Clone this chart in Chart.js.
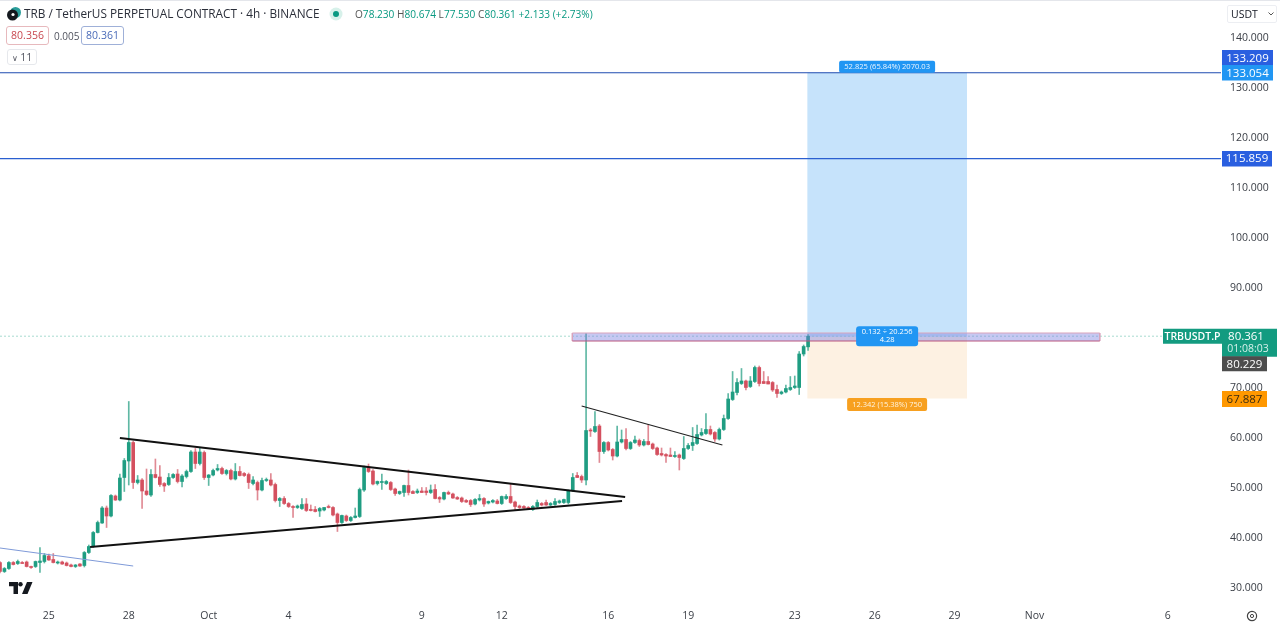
<!DOCTYPE html>
<html><head><meta charset="utf-8">
<script src="https://cdn.jsdelivr.net/npm/chart.js@4"></script>
<style>
html,body{margin:0;padding:0;background:#fff;overflow:hidden;width:1280px;height:625px}
#wrap{position:relative;width:1280px;height:625px;font-family:"Open Sans","Liberation Sans",sans-serif;color:#131722}
canvas{position:absolute;left:0;top:0}
.t{position:absolute;white-space:nowrap;line-height:1}
.b{position:absolute;box-sizing:border-box;border-radius:3px;text-align:center;font-size:10.5px}
</style></head><body>
<div id="wrap">
<canvas id="c" width="1280" height="625"></canvas>
<div style="position:absolute;left:0;top:0;width:1280px;height:1px;background:#e4e6eb"></div>
<svg style="position:absolute;left:6px;top:6px" width="16" height="16" viewBox="0 0 16 16"><circle cx="9.5" cy="6.5" r="5.5" fill="#2a9d9a"/><circle cx="6.5" cy="9" r="5.5" fill="#15191f"/><circle cx="7" cy="8.5" r="1.6" fill="#fff"/></svg>
<div class="t" style="left:24px;top:8px;font-size:11.8px;color:#2a2e39">TRB / TetherUS PERPETUAL CONTRACT · 4h · BINANCE</div>
<svg style="position:absolute;left:329px;top:7px" width="14" height="14"><circle cx="7" cy="7" r="6.5" fill="#d7f1ea"/><circle cx="7" cy="7" r="3" fill="#089981"/></svg>
<div class="t" style="left:355px;top:9px;font-size:10.1px;color:#089981"><span style="color:#555">O</span>78.230 <span style="color:#555">H</span>80.674 <span style="color:#555">L</span>77.530 <span style="color:#555">C</span>80.361 +2.133 (+2.73%)</div>
<div class="b" style="left:6px;top:26px;width:43px;height:19px;border:1px solid #e7b9bd;color:#c8474f;line-height:17px">80.356</div>
<div class="t" style="left:54px;top:31px;font-size:10px;color:#50535e">0.005</div>
<div class="b" style="left:81px;top:26px;width:43px;height:19px;border:1px solid #9fb0d8;color:#4a6bb8;line-height:17px">80.361</div>
<div class="b" style="left:7px;top:49px;width:30px;height:16px;border:1px solid #e6e8ec;color:#50535e;line-height:14px"><span style="font-size:8px">∨</span> 11</div>
<div class="b" style="left:1227px;top:5px;width:50px;height:18px;border:1px solid #eceef2;border-radius:2px;color:#131722;text-align:left;padding-left:3px;line-height:16px">USDT</div>
<svg style="position:absolute;left:1268px;top:12px" width="6" height="4"><path d="M0.5 0.5L3 3L5.5 0.5" fill="none" stroke="#555" stroke-width="1"/></svg>
<svg style="position:absolute;left:9px;top:582px" width="24" height="12" viewBox="0 0 24 12"><path d="M0 0H9V12H4.5V4.2H0Z" fill="#15191f"/><circle cx="11.5" cy="2.2" r="2.2" fill="#15191f"/><path d="M18 0H23.5L18.5 12H13Z" fill="#15191f"/></svg>
<svg style="position:absolute;left:1246px;top:610px" width="12" height="12"><circle cx="6" cy="6" r="4.6" fill="none" stroke="#444" stroke-width="1.2"/><circle cx="6" cy="6" r="1.6" fill="none" stroke="#444" stroke-width="1"/></svg>
</div>
<script>
// Candles, one per 4h bar, index 0 at the left edge of the pane
const opens=[35.1,33.3,33.9,35.1,34.9,35.1,35.2,34.3,34.3,35.1,35.3,36.4,35.7,35.0,35.2,35.0,34.6,34.3,34.8,34.5,37.1,38.3,41.1,43.0,46.0,44.4,48.4,47.6,52.1,55.4,59.1,51.1,51.6,49.4,48.6,52.7,52.2,50.9,50.7,52.1,52.8,51.3,52.3,53.3,57.2,54.9,57.1,52.1,52.6,53.6,53.9,52.9,53.5,51.8,53.3,52.9,52.7,50.9,51.1,49.6,51.5,51.6,50.7,47.5,47.9,46.9,46.3,46.1,45.9,46.8,45.7,45.7,45.4,45.6,46.3,46.1,44.8,43.1,44.4,43.5,44.1,44.3,49.6,54.1,53.4,50.9,51.1,50.9,51.1,49.8,48.9,49.1,50.5,49.3,49.1,49.4,49.4,49.1,49.7,48.1,47.8,49.1,48.8,48.1,48.0,47.5,47.5,46.8,47.6,47.9,47.0,47.2,47.4,46.9,47.9,48.3,47.2,46.4,46.3,46.1,45.7,46.3,46.9,47.1,46.6,46.7,47.1,47.1,47.1,49.5,52.5,52.3,51.6,61.6,61.3,62.4,57.3,59.1,57.7,56.4,59.2,59.7,57.9,59.1,59.5,58.6,59.3,58.8,58.0,56.9,56.7,56.6,56.3,56.6,55.9,57.9,58.5,58.9,60.6,60.9,61.7,61.1,59.8,61.7,63.9,67.7,69.1,70.9,71.4,70.3,71.3,74.1,71.3,71.3,71.1,69.7,68.9,69.2,69.7,70.1,70.1,76.8,78.23];
const highs=[35.3,34.1,35.3,35.3,35.6,35.3,35.4,34.4,35.4,38.1,36.9,36.8,36.9,35.4,35.4,35.2,34.8,34.7,34.9,37.3,38.6,41.3,43.4,46.3,46.4,48.7,48.6,52.8,55.9,67.3,59.4,52.5,51.9,53.8,53.7,55.8,54.5,51.1,52.9,52.9,53.7,52.7,53.6,57.5,57.9,58.1,57.4,52.7,53.8,54.7,54.2,53.7,53.8,54.9,54.3,53.1,53.0,52.3,51.4,52.0,52.0,52.9,51.0,48.1,48.3,47.1,46.5,46.6,47.9,47.9,46.6,46.3,46.1,46.1,46.6,46.3,45.0,44.6,44.6,44.3,46.0,50.0,54.4,54.8,53.7,51.4,52.8,51.5,51.3,50.0,49.4,50.6,53.6,49.5,49.8,50.1,50.1,50.6,50.7,48.3,49.2,49.4,49.0,48.3,48.2,47.7,47.7,47.9,48.7,48.1,47.4,47.7,47.7,48.4,48.7,50.9,47.4,46.6,46.5,46.3,46.5,47.6,47.1,47.6,47.1,47.9,47.6,47.8,49.6,52.9,53.1,52.6,80.9,61.9,65.3,62.7,59.3,59.3,57.9,62.4,61.6,61.9,59.3,60.4,59.8,59.7,62.7,59.0,58.2,58.0,56.9,58.0,57.3,56.8,60.3,58.9,62.1,62.6,61.9,64.9,62.4,61.3,62.0,64.6,68.9,73.3,71.9,73.9,71.6,72.3,74.4,74.4,73.3,72.3,71.3,70.6,69.4,70.6,72.3,72.4,77.3,78.6,80.674];
const lows=[33.0,33.1,33.7,34.6,34.7,34.9,34.2,33.9,34.1,33.1,35.0,35.5,35.0,34.8,34.7,34.4,34.2,34.1,34.3,34.2,36.9,38.1,41.0,42.9,42.1,44.2,47.5,47.4,49.3,50.6,49.9,50.8,45.9,48.5,48.3,52.0,50.3,49.3,50.5,51.9,51.0,50.2,52.0,53.1,53.9,54.6,51.7,50.5,52.4,53.4,52.7,52.6,51.6,51.6,52.4,52.3,49.9,50.6,47.6,49.4,51.3,50.4,47.2,46.3,46.7,46.1,44.1,45.9,45.7,45.3,45.4,45.2,44.3,45.4,46.0,44.4,41.3,42.9,43.3,43.3,44.0,44.1,49.3,53.1,50.6,50.6,49.7,50.7,49.5,48.5,48.7,48.3,48.6,48.9,48.9,49.1,48.6,48.9,47.8,47.1,47.6,48.7,47.9,47.7,47.1,47.1,46.3,46.6,47.4,46.3,46.8,47.0,46.8,46.7,47.7,46.9,45.7,45.9,45.9,45.7,45.5,46.1,46.4,46.5,46.4,46.5,46.9,46.9,46.8,49.3,52.1,51.1,50.6,60.3,61.1,55.1,56.9,57.4,55.6,56.2,59.0,57.6,57.7,58.9,58.3,58.4,58.6,57.7,56.5,56.4,55.1,56.3,56.1,53.6,55.7,57.7,57.5,58.7,60.4,60.7,60.6,59.3,59.6,61.5,63.7,67.5,68.6,70.7,69.6,70.1,71.1,70.4,70.9,70.8,69.3,68.1,68.7,69.0,69.5,69.9,68.7,76.4,77.53];
const closes=[33.3,33.9,35.1,34.7,35.3,34.9,34.3,34.1,35.3,35.4,36.5,35.6,35.1,35.2,34.8,34.5,34.3,34.6,34.4,37.1,38.3,41.1,43.1,46.0,44.4,48.5,47.6,52.0,55.5,59.1,51.1,51.6,49.4,48.7,52.7,52.1,50.7,50.4,52.1,52.7,51.3,52.4,53.3,57.2,54.9,57.2,52.1,52.6,53.5,53.9,52.9,53.5,51.8,53.3,52.5,52.5,51.1,51.6,49.6,51.5,51.7,50.6,47.5,47.9,46.9,46.3,46.1,46.4,46.7,45.5,45.5,45.3,45.9,46.1,46.1,44.6,43.1,44.5,43.5,44.1,44.4,49.7,54.1,53.3,50.8,51.3,51.3,51.3,49.7,48.9,49.3,50.5,49.1,48.9,49.4,49.1,49.1,49.6,47.9,47.8,49.1,48.8,48.0,47.8,47.3,47.2,46.7,47.7,47.9,46.8,47.3,47.5,46.9,48.3,48.3,47.1,46.3,46.1,46.0,45.9,46.3,47.1,46.6,46.6,46.9,47.3,47.4,47.7,49.5,52.1,52.1,51.6,61.5,61.4,62.3,57.3,59.1,57.6,56.4,59.2,59.7,57.9,59.1,59.6,58.6,59.3,58.7,57.9,56.7,56.6,56.4,56.3,56.5,56.1,57.9,58.5,59.1,60.7,61.1,61.7,60.8,59.8,61.7,63.9,67.8,69.2,71.1,71.4,70.1,71.4,74.1,70.9,70.9,70.8,69.6,68.9,69.2,69.9,70.1,70.4,76.8,78.3,80.361];

// Axes
const priceTicks=[30,40,50,60,70,90,100,110,120,130,140];
const dateTickBars=[11,29,47,65,95,113,137,155,179,197,215,233,263];
const dateTickLabels=["25","28","Oct","4","9","12","16","19","23","26","29","Nov","6"];

// Drawings, in bar index and price
const triangleUpper=[{x:27,y:60.0},{x:140.8,y:48.2}];
const triangleLower=[{x:20.3,y:38.2},{x:140.1,y:47.4}];
const flagLine=[{x:131,y:66.4},{x:162.7,y:58.6}];
const oldTrend=[{x:0,y:38.0},{x:30,y:34.4}];
const targetPrice=133.054, resistancePrice=115.859, entryPrice=80.229, stopPrice=67.887, lastPrice=80.361, markedPrice=133.209;
const positionBars=[181.8,217.8];
const zoneBars=[128.9,247.7];
const zonePrices=[81.0,79.4];
const edgeBars=[0,275];

const GREEN='#1f9d82',RED='#d4505f';
const isUp=closes.map((c,i)=>c>=opens[i]);
const bodyColors=isUp.map(u=>u?GREEN:RED);
const wickColors=isUp.map(u=>u?'#5fb8a4':'#e08a94');
const flat=(bars,y)=>bars.map(x=>({x,y}));
const upright=(x,ys)=>ys.map(y=>({x,y}));
const line=(data,color,width,order,extra)=>Object.assign({type:'line',data,borderColor:color,borderWidth:width,pointRadius:0,fill:false,tension:0,order},extra||{});

const overlay={id:'overlay',afterDraw(ch){
  const c=ch.ctx,Y=ch.scales.y,X=ch.scales.x;
  const font=(s,w)=>(w||'')+' '+s+'px "Open Sans","Liberation Sans",sans-serif';
  function tag(x,yc,w,h,bg,txt,fg,f,r){
    c.fillStyle=bg;c.beginPath();c.roundRect(x,yc-h/2,w,h,r||0);c.fill();
    if(txt!==null){c.fillStyle=fg;c.font=f;c.textAlign='center';c.textBaseline='middle';c.fillText(txt,x+w/2,yc+0.5);}
  }
  const axisX=1222;
  const yT=Y.getPixelForValue(targetPrice),yR=Y.getPixelForValue(resistancePrice),yL=Y.getPixelForValue(lastPrice),yE=Y.getPixelForValue(entryPrice),yS=Y.getPixelForValue(stopPrice);
  tag(axisX,yT-15,51,15.5,'#2a5fe0',markedPrice.toFixed(3),'#fff',font(11.5));
  tag(axisX,yT,51,15.5,'#2196f3',targetPrice.toFixed(3),'#fff',font(11.5));
  tag(axisX,yR,50,15.5,'#2a5fe0',resistancePrice.toFixed(3),'#fff',font(11.5));
  // last price
  tag(1163,yL,59,15,'#139b80','TRBUSDT.P','#fff',font(10.5,'600'));
  tag(axisX,yL+6.5,55,28,'#139b80',null);
  c.fillStyle='#fff';c.textAlign='center';c.textBaseline='middle';
  c.font=font(11.5);c.fillText(lastPrice.toFixed(3),axisX+24,yL+0.5);
  c.font=font(10.5);c.fillStyle='#d6f0ea';c.fillText('01:08:03',axisX+26,yL+13);
  tag(axisX,yE+27,45,15,'#4d4d4d',entryPrice.toFixed(3),'#fff',font(11.5));
  tag(axisX,yS+0.5,45,16,'#ff9800',stopPrice.toFixed(3),'#3b2c10',font(11.5));
  // position labels
  const mid=X.getPixelForValue((positionBars[0]+positionBars[1])/2);
  tag(mid-48,yT-6,96,12,'#2196f3','52.825 (65.84%) 2070.03','#eaf5ff',font(7.6),2);
  c.fillStyle='#2196f3';c.beginPath();c.roundRect(mid-31,yE-10.5,62,20,3);c.fill();
  c.fillStyle='#fff';c.font=font(7.5);c.textAlign='center';c.textBaseline='middle';
  c.fillText('0.132 ÷ 20.256',mid,yE-5);c.fillText('4.28',mid,yE+3.5);
  tag(mid-40,yS+6,80,13,'#f7a020','12.342 (15.38%) 750','#fff4e0',font(7.5),2);
}};

new Chart(document.getElementById('c'),{
  data:{datasets:[
    line(flat(positionBars,targetPrice),'transparent',0,20,{fill:{value:entryPrice},backgroundColor:'#c6e3fb'}),
    line(flat(positionBars,stopPrice),'transparent',0,20,{fill:{value:entryPrice},backgroundColor:'#fdf1e2'}),
    line(flat(edgeBars,lastPrice),'#a8dcd0',1,15,{borderDash:[2,2]}),
    {type:'bar',data:lows.map((l,i)=>({x:i,y:[l,highs[i]]})),backgroundColor:wickColors,barThickness:1,grouped:false,order:10},
    {type:'bar',data:opens.map((o,i)=>({x:i,y:[o,closes[i]]})),backgroundColor:bodyColors,barThickness:3,grouped:false,order:9},
    line(flat(zoneBars,zonePrices[0]),'transparent',0,6,{fill:{value:zonePrices[1]},backgroundColor:'rgba(120,125,225,.42)'}),
    line(flat(zoneBars,zonePrices[0]),'#d9a3bb',1,5),
    line(flat(zoneBars,zonePrices[1]),'#b9567f',1,5),
    line(upright(zoneBars[0],zonePrices),'#d9a3bb',1,5),
    line(upright(zoneBars[1],zonePrices),'#d9a3bb',1,5),
    line(flat(edgeBars,targetPrice),'#1f4bb0',1.2,4),
    line(flat(edgeBars,resistancePrice),'#2a5fd0',1.2,4),
    line(triangleUpper,'#111',1.8,3),
    line(triangleLower,'#111',1.8,3),
    line(flagLine,'#222',1.2,3),
    line(oldTrend,'#7f9ad8',1,3)
  ]},
  options:{
    responsive:false,animation:false,devicePixelRatio:1,
    layout:{padding:0,autoPadding:false},
    plugins:{legend:{display:false},tooltip:{enabled:false}},
    events:[],
    scales:{
      x:{type:'linear',bounds:'data',min:0,max:275,offset:false,grid:{display:false,drawTicks:false},border:{display:false},
        afterBuildTicks(s){s.ticks=dateTickBars.map(v=>({value:v}));},
        afterFit(s){s.height=21;s.paddingLeft=0;s.paddingRight=0;},
        ticks:{autoSkip:false,maxRotation:0,padding:6,color:'#3c4048',font:{size:10.5,family:'"Open Sans","Liberation Sans",sans-serif'},
          callback(v){const i=dateTickBars.indexOf(v);return i<0?'':dateTickLabels[i];}}},
      y:{type:'linear',position:'right',bounds:'data',min:26.8,max:147.6,grid:{display:false,drawTicks:false},border:{display:false},
        afterBuildTicks(s){s.ticks=priceTicks.map(v=>({value:v}));},
        afterFit(s){s.width=59;s.paddingTop=0;s.paddingBottom=0;},
        ticks:{padding:9,color:'#3c4048',font:{size:10.5,family:'"Open Sans","Liberation Sans",sans-serif'},
          callback(v){return Number(v).toFixed(3);}}}
    }
  },
  plugins:[overlay]
});
</script>
</body></html>
